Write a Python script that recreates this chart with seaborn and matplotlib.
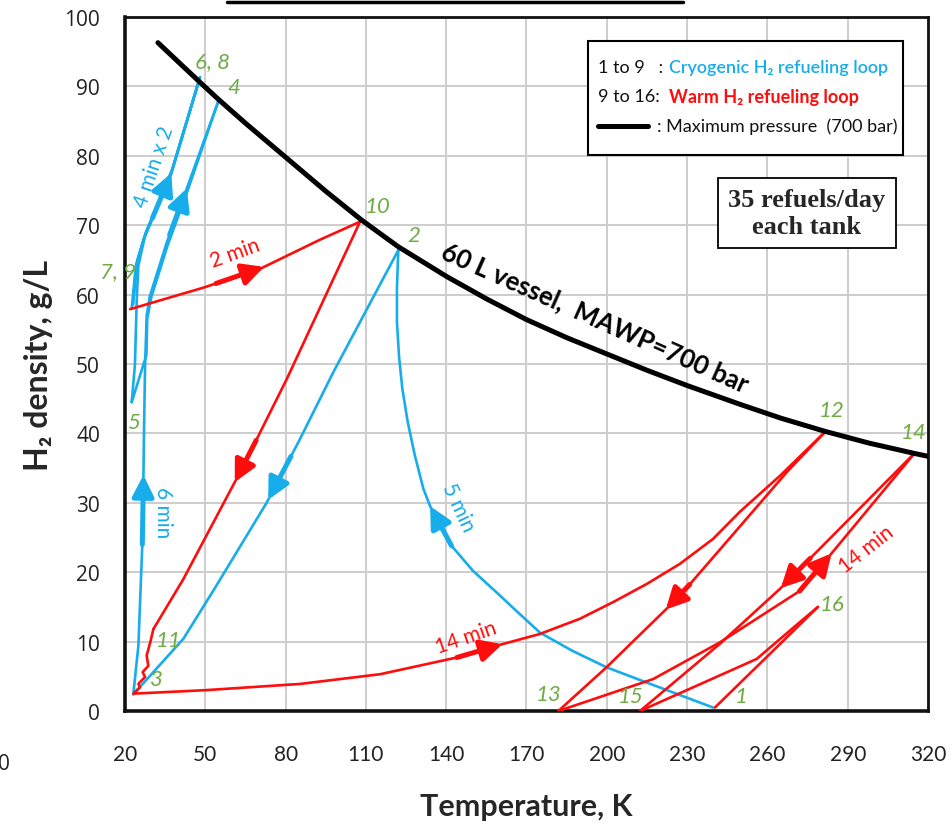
import numpy as np
import pandas as pd
import matplotlib
matplotlib.use("Agg")
import matplotlib.pyplot as plt
import seaborn as sns
from matplotlib.lines import Line2D
from matplotlib.patches import Rectangle

# ---------------- data ----------------
# Maximum pressure line (700 bar), temperature K / density g/L
black_T = [32.3, 40, 48, 55, 65, 80, 95, 108.2, 115.3, 122.1, 140.2, 155, 170, 185,
           200.3, 215, 230, 249.7, 265, 281.5, 298, 315.1, 320]
black_rho = [96.3, 93.5, 90.6, 88.1, 84.7, 79.8, 74.9, 70.8, 68.8, 66.9, 62.6, 59.4, 56.4,
             53.8, 51.4, 49.1, 46.9, 44.2, 42.2, 40.3, 38.6, 37.1, 36.7]

# Cryogenic loop (1 to 9)
p1_2_T = [239.7, 214.9, 199.9, 187.0, 175.0, 166.0, 158.8, 150.0, 142.0, 138.0, 133.9,
          131.5, 128.3, 125.6, 123.6, 122.4, 121.6, 121.6, 122.1]
p1_2_rho = [0.5, 4.1, 6.3, 8.7, 11.3, 14.5, 17.1, 20.2, 23.8, 26.3, 29.6,
            32.0, 36.8, 41.7, 46.5, 51.0, 56.0, 61.0, 66.4]
p2_3_T = [122.1, 97.8, 85.4, 72.9, 54.2, 41.8, 23.1]
p2_3_rho = [66.4, 48.8, 39.2, 30.0, 18.1, 10.4, 2.4]
p3_4_T = [23.1, 25.0, 26.6, 27.1, 27.5, 28.1, 29.3, 35.6, 43.0, 54.9]
p3_4_rho = [2.4, 9.4, 25.3, 40.2, 49.8, 57.0, 59.8, 67.5, 75.2, 87.9]
p4_5_T = [54.9, 43.4, 36.0, 29.8, 28.3, 28.0, 22.5]
p4_5_rho = [87.9, 75.0, 67.2, 59.6, 56.5, 51.3, 44.5]
p5_6_T = [22.5, 23.7, 24.4, 25.0, 27.5, 37.4, 48.0]
p5_6_rho = [44.5, 49.8, 59.4, 64.2, 68.5, 77.6, 91.3]
p6_7_T = [48.0, 37.0, 27.0, 24.2, 23.0]
p6_7_rho = [91.3, 77.2, 68.0, 64.4, 58.6]
p7_8_T = [23.0, 24.7, 27.8, 37.8, 48.0]
p7_8_rho = [58.6, 65.0, 69.0, 78.2, 91.3]
p8_9_T = [48.0, 37.2, 27.2, 24.0, 22.5]
p8_9_rho = [91.3, 77.4, 68.2, 64.0, 58.0]

# Warm loop (9 to 16)
p9_10_T = [21.9, 49.3, 70.4, 92.8, 107.8]
p9_10_rho = [57.9, 61.0, 63.7, 67.9, 70.5]
p10_11_T = [107.8, 80.4, 64.2, 41.8, 30.6]
p10_11_rho = [70.5, 47.8, 35.3, 19.0, 11.8]
p11_12_T = [30.6, 29.5, 28.1, 28.7, 26.6, 27.5, 25.0, 25.6, 23.1, 50.0, 85.4, 115.3,
            143.9, 158.8, 175.0, 190.0, 202.4, 214.9, 227.3, 239.7, 249.7, 265.0, 281.5]
p11_12_rho = [11.8, 10.0, 8.0, 6.5, 5.6, 4.9, 3.9, 3.4, 2.5, 3.0, 3.9, 5.3,
              7.7, 9.4, 11.1, 13.3, 15.7, 18.3, 21.2, 24.8, 28.7, 34.0, 40.2]
p12_13_T = [281.5, 267.2, 252.2, 227.3, 199.9, 181.9]
p12_13_rho = [40.2, 34.4, 27.7, 16.6, 6.3, 0.0]
p13_14_T = [181.9, 217.3, 242.3, 272.1, 283.3, 315.1]
p13_14_rho = [0.0, 4.6, 9.9, 17.3, 22.4, 37.2]
p14_15_T = [315.1, 264.7, 242.3, 212.4]
p14_15_rho = [37.2, 17.6, 9.7, 0.0]
p15_16_T = [212.4, 256.0, 272.1, 278.9]
p15_16_rho = [0.0, 7.5, 12.8, 15.0]
p16_1_T = [278.9, 240.4]
p16_1_rho = [15.0, 0.5]

x_ticks = [20, 50, 80, 110, 140, 170, 200, 230, 260, 290, 320]
y_ticks = [0, 10, 20, 30, 40, 50, 60, 70, 80, 90, 100]

# ---------------- styling ----------------
BLUE = "#17ADEA"
RED = "#FF0D0D"
GREEN = "#6FAC46"

sns.set_theme(style="white")
plt.rcParams["font.family"] = ["Lato", "DejaVu Sans"]

paths = {
    "1-2": ("cryo", p1_2_T, p1_2_rho), "2-3": ("cryo", p2_3_T, p2_3_rho),
    "3-4": ("cryo", p3_4_T, p3_4_rho), "4-5": ("cryo", p4_5_T, p4_5_rho),
    "5-6": ("cryo", p5_6_T, p5_6_rho), "6-7": ("cryo", p6_7_T, p6_7_rho),
    "7-8": ("cryo", p7_8_T, p7_8_rho), "8-9": ("cryo", p8_9_T, p8_9_rho),
    "9-10": ("warm", p9_10_T, p9_10_rho), "10-11": ("warm", p10_11_T, p10_11_rho),
    "11-12": ("warm", p11_12_T, p11_12_rho), "12-13": ("warm", p12_13_T, p12_13_rho),
    "13-14": ("warm", p13_14_T, p13_14_rho), "14-15": ("warm", p14_15_T, p14_15_rho),
    "15-16": ("warm", p15_16_T, p15_16_rho), "16-1": ("warm", p16_1_T, p16_1_rho),
}
frames = []
for name, (loop, Ts, rs) in paths.items():
    frames.append(pd.DataFrame({"T": Ts, "rho": rs, "seg": name, "loop": loop}))
df = pd.concat(frames, ignore_index=True)
df_black = pd.DataFrame({"T": black_T, "rho": black_rho})

fig = plt.figure(figsize=(9.53, 8.37), dpi=100)
ax = fig.add_axes([0.13116, 0.14934, 0.84260, 0.82915])

sns.lineplot(data=df, x="T", y="rho", hue="loop", units="seg", estimator=None,
             sort=False, palette={"cryo": BLUE, "warm": RED}, lw=1.9,
             legend=False, ax=ax, zorder=3)
sns.lineplot(data=df_black, x="T", y="rho", color="black", lw=3.6, sort=False,
             estimator=None, legend=False, ax=ax, zorder=4)
for ln in ax.lines:
    ln.set_solid_joinstyle("round")

ax.set_xlim(20, 320)
ax.set_ylim(0, 100)
ax.set_xticks(x_ticks)
ax.set_yticks(y_ticks)
ax.grid(True, color="#CDCDCD", lw=1.4)
ax.set_axisbelow(True)
for s in ax.spines.values():
    s.set_color("#111111")
    s.set_linewidth(2.0)
ax.spines["left"].set_linewidth(2.6)
ax.spines["bottom"].set_linewidth(2.6)
ax.tick_params(axis="x", length=9, width=1.2, color="#AAAAAA", pad=15,
               labelsize=15, labelcolor="#222222")
ax.tick_params(axis="y", length=8, width=1.2, color="#AAAAAA", pad=10,
               labelsize=15, labelcolor="#222222")
for lbl in ax.get_yticklabels():
    lbl.set_fontfamily(["Open Sans", "DejaVu Sans"])

ax.set_xlabel("Temperature, K", fontsize=22, fontweight="bold", labelpad=20)
ax.set_ylabel("H\u2082 density, g/L", fontsize=23, fontweight="bold", labelpad=8)


# ---------------- arrows along the paths ----------------
def point_on(Ts, rs, key, value):
    vals = Ts if key == "T" else rs
    for i in range(len(vals) - 1):
        v0, v1 = vals[i], vals[i + 1]
        if v0 != v1 and (v0 - value) * (v1 - value) <= 0:
            f = (value - v0) / (v1 - v0)
            return (Ts[i] + f * (Ts[i + 1] - Ts[i]), rs[i] + f * (rs[i + 1] - rs[i]))
    return (Ts[-1], rs[-1])


arrows = [
    ("9-10", "T", 54, 72), ("10-11", "T", 69, 61), ("11-12", "T", 144, 161),
    ("12-13", "T", 231, 222), ("13-14", "T", 272, 284), ("14-15", "T", 276, 265),
    ("1-2", "T", 142, 134), ("2-3", "T", 82, 73.5), ("3-4", "rho", 24, 34),
    ("5-6", "rho", 71, 77.5), ("3-4", "rho", 68.6, 75.3),
]
for seg, key, a, b in arrows:
    loop, Ts, rs = paths[seg]
    c = BLUE if loop == "cryo" else RED
    p0 = point_on(Ts, rs, key, a)
    p1 = point_on(Ts, rs, key, b)
    ax.annotate("", xy=p1, xytext=p0, zorder=5,
                arrowprops=dict(arrowstyle="-|>,head_length=0.75,head_width=0.38",
                                mutation_scale=17, lw=3.6, color=c,
                                shrinkA=0, shrinkB=0))

# ---------------- state point labels ----------------
states = [
    ("1", p16_1_T[-1], p16_1_rho[-1], (19, 8)),
    ("2", p1_2_T[-1], p1_2_rho[-1], (11, 11)),
    ("3", p2_3_T[-1], p2_3_rho[-1], (17, 11)),
    ("4", p3_4_T[-1], p3_4_rho[-1], (11, 10)),
    ("5", p4_5_T[-1], p4_5_rho[-1], (1, -14)),
    ("6, 8", p5_6_T[-1], p5_6_rho[-1], (9, 12)),
    ("7, 9", p6_7_T[-1], p6_7_rho[-1], (-11, 24)),
    ("10", p9_10_T[-1], p9_10_rho[-1], (13, 11)),
    ("11", p10_11_T[-1], p10_11_rho[-1], (11, -8)),
    ("12", p11_12_T[-1], p11_12_rho[-1], (5, 16)),
    ("13", p12_13_T[-1], p12_13_rho[-1], (-7, 12)),
    ("14", p13_14_T[-1], p13_14_rho[-1], (-1, 15)),
    ("15", p14_15_T[-1], p14_15_rho[-1], (-7, 11)),
    ("16", p15_16_T[-1], p15_16_rho[-1], (10, 2)),
]
for txt, T, r, off in states:
    ax.annotate(txt, (T, r), xytext=off, textcoords="offset points", ha="center",
                va="center", color=GREEN, fontsize=16, fontstyle="italic",
                annotation_clip=False, zorder=6)

# ---------------- other annotations ----------------
ax.text(195.6, 56.8, "60 L vessel,  MAWP=700 bar", rotation=-24, ha="center",
        va="center", fontsize=18.5, fontweight="bold", color="black",
        rotation_mode="anchor", zorder=6)
ax.text(30.8, 78.5, "4 min x 2", rotation=71, ha="center", va="center",
        fontsize=15, color=BLUE, rotation_mode="anchor", zorder=6)
ax.text(61.1, 66.0, "2 min", rotation=20, ha="center", va="center",
        fontsize=15, color=RED, rotation_mode="anchor", zorder=6)
ax.text(34.2, 28.7, "6 min", rotation=-90, ha="center", va="center",
        fontsize=15, color=BLUE, rotation_mode="anchor", zorder=6)
ax.text(144.4, 29.4, "5 min", rotation=-65, ha="center", va="center",
        fontsize=15, color=BLUE, rotation_mode="anchor", zorder=6)
ax.text(147.4, 10.6, "14 min", rotation=19, ha="center", va="center",
        fontsize=15, color=RED, rotation_mode="anchor", zorder=6)
ax.text(296.8, 23.4, "14 min", rotation=38, ha="center", va="center",
        fontsize=15, color=RED, rotation_mode="anchor", zorder=6)

ax.text(0.849, 0.7176, "35 refuels/day\neach tank", transform=ax.transAxes,
        ha="center", va="center", fontsize=19, fontweight="bold",
        fontfamily="Liberation Serif", linespacing=1.2, zorder=7,
        bbox=dict(boxstyle="square,pad=0.4", fc="white", ec="black", lw=1.3))

# ---------------- manual legend box ----------------
ax.add_patch(Rectangle((0.577, 0.801), 0.392, 0.164, transform=ax.transAxes,
                       fc="white", ec="black", lw=1.5, zorder=7))
leg_fs = 13
ax.text(0.589, 0.928, "1 to 9   :", transform=ax.transAxes, ha="left", va="center",
        fontsize=leg_fs, color="#111111", zorder=8)
ax.text(0.678, 0.928, "Cryogenic H\u2082 refueling loop", transform=ax.transAxes,
        ha="left", va="center", fontsize=leg_fs, color=BLUE, fontweight="semibold",
        zorder=8)
ax.text(0.589, 0.886, "9 to 16:", transform=ax.transAxes, ha="left", va="center",
        fontsize=leg_fs, color="#111111", zorder=8)
ax.text(0.678, 0.886, "Warm H\u2082 refueling loop", transform=ax.transAxes,
        ha="left", va="center", fontsize=leg_fs, color=RED, fontweight="bold",
        zorder=8)
ax.add_line(Line2D([0.589, 0.651], [0.843, 0.843], transform=ax.transAxes,
                   color="black", lw=3.6, zorder=8))
ax.text(0.663, 0.843, ": Maximum pressure  (700 bar)", transform=ax.transAxes,
        ha="left", va="center", fontsize=leg_fs, color="#111111", zorder=8)

# ---------------- cropped artefacts of the source image ----------------
fig.add_artist(Line2D([227 / 953, 683 / 953], [1 - 3 / 837, 1 - 3 / 837],
                      transform=fig.transFigure, color="black", lw=2.5))
fig.text(0.004, 1 - 765 / 837, "0", ha="center", va="center", fontsize=15,
         fontfamily=["Open Sans", "DejaVu Sans"], color="#222222")

fig.savefig("out.png", dpi=100)
